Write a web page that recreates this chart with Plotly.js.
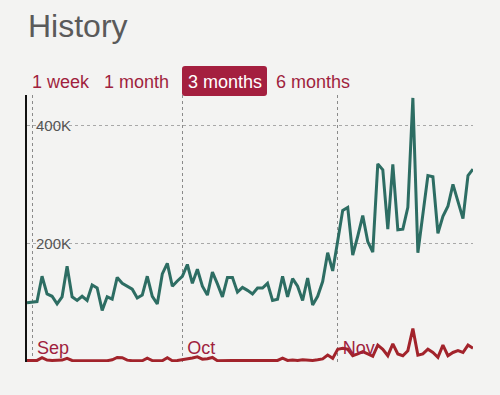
<!DOCTYPE html>
<html>
<head>
<meta charset="utf-8">
<script src="https://cdn.plot.ly/plotly-3.0.1.min.js"></script>
<style>
  html, body { margin: 0; padding: 0; background: #f3f3f2; }
  #chart { width: 500px; height: 395px; }
</style>
</head>
<body>
<div id="chart"></div>
<script>
// ---- data ----
var startDate = '2015-08-31';           // first day shown
var monthTicks = ['2015-09-01', '2015-10-01', '2015-11-01'];
var monthLabels = ['Sep', 'Oct', 'Nov'];
var yTickVals = [0, 200000, 400000];
var yTickText = ['', '200K', '400K'];
var rangeButtons = ['1 week', '1 month', '3 months', '6 months'];
var activeButton = '3 months';

// daily values (thousands)
var seriesA = [99, 100, 101, 144, 114, 110, 97, 109, 161, 109,
               103, 110, 103, 129, 124, 86, 109, 105, 142, 132,
               127, 122, 107, 112, 144, 110, 97, 148, 166, 127,
               136, 144, 164, 132, 156, 127, 112, 151, 131, 109,
               142, 142, 117, 125, 120, 114, 124, 124, 132, 103,
               105, 144, 109, 140, 127, 103, 141, 95, 110, 135,
               184, 153, 204, 256, 261, 180, 212, 247, 203, 185,
               335, 325, 224, 334, 223, 224, 261, 447, 184, 249,
               315, 313, 217, 246, 263, 300, 272, 242, 315, 326];
var seriesB = [1, 1, 1, 5.5, 1.5, 1, 1, 1.5, 4.5, 1,
               0.5, 0.5, 0.5, 0.5, 0.5, 0.5, 0.5, 2, 6, 5.5,
               1.5, 0.5, 0.5, 0.5, 5, 0.8, 0.5, 0.5, 5.5, 0.5,
               0.8, 2, 3, 5, 7, 3, 4, 6, 0.5, 1,
               1, 1, 1, 1.5, 1, 1, 1, 1, 1, 1,
               1, 5, 1, 1.5, 1, 2, 1.5, 1, 2, 3.5,
               10, 4.5, 20, 21.5, 20, 9, 12, 16, 12, 8,
               27, 20, 9, 29, 12, 9, 17.5, 55, 10, 12,
               20, 14.5, 6.3, 27, 9, 14.5, 17.5, 14.5, 27, 21.5];

// ---- build x dates ----
function addDays(iso, n) {
  var d = new Date(iso + 'T00:00:00Z');
  d.setUTCDate(d.getUTCDate() + n);
  return d.toISOString().slice(0, 10);
}
var dates = seriesA.map(function (_, i) { return addDays(startDate, i); });
var endDate = dates[dates.length - 1];

var crimson = '#a01f3e';
var FONT = 'Liberation Sans, Arial, sans-serif';

var traces = [
  { x: dates, y: seriesA.map(function (v) { return v * 1000; }), type: 'scatter', mode: 'lines',
    line: { color: '#2d6d63', width: 3 }, hoverinfo: 'skip' },
  { x: dates, y: seriesB.map(function (v) { return v * 1000; }), type: 'scatter', mode: 'lines',
    line: { color: '#a2232b', width: 3 }, hoverinfo: 'skip' }
];

// pixel -> paper helpers (plot area 27..473 x 95..362)
var L = 27, R = 473, T = 95, B = 362;
function px(x) { return (x - L) / (R - L); }
function py(y) { return (B - y) / (B - T); }

// buttons
var btnLeft = { '1 week': 30, '1 month': 102, '3 months': 224.5, '6 months': 274 };
var annotations = rangeButtons.map(function (t) {
  var active = t === activeButton;
  return {
    text: t, xref: 'paper', yref: 'paper',
    x: px(btnLeft[t]), y: py(81.5),
    xanchor: active ? 'center' : 'left', yanchor: 'middle',
    showarrow: false,
    font: { family: FONT, size: 18, color: active ? '#ffffff' : crimson }
  };
});

// y tick labels drawn inside the plot
yTickVals.forEach(function (v, i) {
  if (!yTickText[i]) return;
  annotations.push({
    text: yTickText[i], xref: 'paper', yref: 'y',
    x: px(34), y: v, xanchor: 'left', yanchor: 'middle',
    showarrow: false,
    font: { family: FONT, size: 15, color: '#555555' }
  });
});

// rounded rect for active button
function roundRect(x0, y0, x1, y1, r) {
  function P(x, y) { return px(x) + ',' + py(y); }
  return 'M' + P(x0 + r, y0) + ' L' + P(x1 - r, y0) + ' Q' + P(x1, y0) + ' ' + P(x1, y0 + r) +
         ' L' + P(x1, y1 - r) + ' Q' + P(x1, y1) + ' ' + P(x1 - r, y1) +
         ' L' + P(x0 + r, y1) + ' Q' + P(x0, y1) + ' ' + P(x0, y1 - r) +
         ' L' + P(x0, y0 + r) + ' Q' + P(x0, y0) + ' ' + P(x0 + r, y0) + ' Z';
}

var layout = {
  width: 500, height: 395,
  paper_bgcolor: '#f3f3f2', plot_bgcolor: 'rgba(0,0,0,0)',
  margin: { l: L, r: 500 - R, t: T, b: 395 - B },
  showlegend: false,
  title: {
    text: 'History', xref: 'container', yref: 'container',
    x: 28 / 500, xanchor: 'left', y: 1 - 26 / 395, yanchor: 'middle',
    font: { family: FONT, size: 32, color: '#5a5a5a' }
  },
  xaxis: {
    type: 'date', range: [startDate, endDate],
    tickvals: monthTicks, ticktext: monthLabels,
    ticklabelposition: 'inside right',
    ticklabelshift: 5, ticklabelstandoff: -2,
    tickfont: { family: FONT, size: 18, color: crimson },
    showgrid: true, griddash: 'dot', gridcolor: '#8a8a8a', gridwidth: 1,
    showline: false, zeroline: false, ticks: ''
  },
  yaxis: {
    range: [-1700, 452000],
    tickvals: yTickVals, showticklabels: false,
    showgrid: true, griddash: 'dot', gridcolor: '#a8a8a8', gridwidth: 1,
    showline: true, linecolor: '#111111', linewidth: 2,
    zeroline: false, ticks: ''
  },
  annotations: annotations,
  shapes: [{
    type: 'path', xref: 'paper', yref: 'paper',
    path: roundRect(182, 66, 267, 96, 3),
    fillcolor: '#a41f3f', line: { width: 0 }, layer: 'below'
  }]
};

Plotly.newPlot('chart', traces, layout, { staticPlot: true, displayModeBar: false });
</script>
</body>
</html>
